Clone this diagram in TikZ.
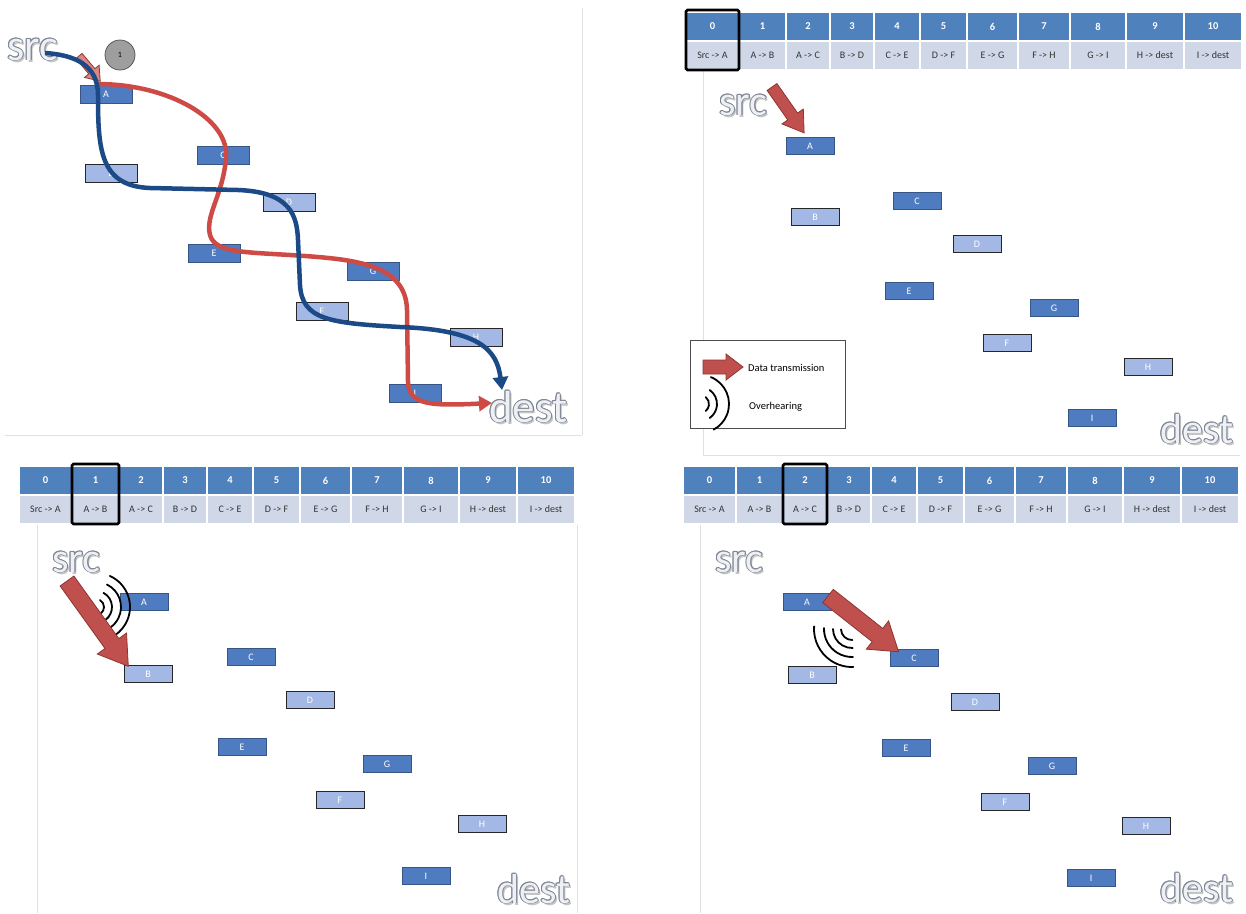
\documentclass[tikz,border=0pt]{standalone}
\usepackage{fontspec}
\setmainfont{Carlito}
\usetikzlibrary{arrows.meta}
\definecolor{hdrc}{HTML}{4F81BD}
\definecolor{slotc}{HTML}{D0D8E8}
\definecolor{darkbox}{HTML}{4F7BC0}
\definecolor{lightbox}{HTML}{A3B8E4}
\definecolor{arrred}{HTML}{C0504D}
\definecolor{arrredd}{HTML}{8E3532}
\definecolor{arrpink}{HTML}{DA8683}
\definecolor{pathred}{HTML}{CD4A45}
\definecolor{pathblue}{HTML}{1B4A86}
\definecolor{olc}{HTML}{7D8593}
\definecolor{olfill}{HTML}{EEF0F5}
\definecolor{olshadow}{HTML}{C4C4C4}
\definecolor{faintc}{HTML}{E0E0E0}
\definecolor{slottxt}{HTML}{333333}

\newcommand\olcopy[3]{\rlap{\kern#1\raisebox{#2}{\textcolor{olc}{#3}}}}
\newcommand\outlined[1]{\rlap{\kern2pt\raisebox{-2pt}{\textcolor{olshadow}{#1}}}%
\olcopy{0.9pt}{0pt}{#1}\olcopy{-0.9pt}{0pt}{#1}\olcopy{0pt}{0.9pt}{#1}\olcopy{0pt}{-0.9pt}{#1}%
\olcopy{0.65pt}{0.65pt}{#1}\olcopy{-0.65pt}{0.65pt}{#1}\olcopy{0.65pt}{-0.65pt}{#1}\olcopy{-0.65pt}{-0.65pt}{#1}%
\textcolor{olfill}{#1}}

% block arrow: x, y, canvas angle, length, shaft half width, head half width, head length, fill
\newcommand\blockarrow[8]{%
 \begin{scope}[shift={(#1,#2)},rotate=#3]
  \filldraw[fill=#8,draw=arrredd,line width=0.8pt,line join=miter]
   (0,-#5) -- ({#4-#7},-#5) -- ({#4-#7},-#6) -- (#4,0) -- ({#4-#7},#6) -- ({#4-#7},#5) -- (0,#5) -- cycle;
 \end{scope}}

% slot table: prefix, x0, y0, highlight left, highlight right
\newcommand\slottable[5]{%
 \foreach \ci/\ca/\cb/\ct in {0/0/53/{Src -> A},1/53/100/{A -> B},2/100/144/{A -> C},3/144/188/{B -> D},4/188/234/{C -> E},5/234/281/{D -> F},6/281/332/{E -> G},7/332/384/{F -> H},8/384/440/{G -> I},9/440/498/{H -> dest},10/498/556/{I -> dest}}{
  \filldraw[fill=hdrc,draw=white,line width=1.2pt] ({#2+\ca},#3) rectangle ({#2+\cb},{#3+29});
  \filldraw[fill=slotc,draw=white,line width=1.2pt] ({#2+\ca},{#3+29}) rectangle ({#2+\cb},{#3+58});
  \node[hdrtext] (#1h\ci) at ({#2+(\ca+\cb)/2},{#3+14.5}) {\ci};
  \node[slottext] (#1s\ci) at ({#2+(\ca+\cb)/2},{#3+43.5}) {\ct};
 }
 \draw[hl] ({#2+#4},{#3-2}) rectangle ({#2+#5},{#3+58});
}

\begin{document}
\begin{tikzpicture}[x=1pt,y=-1pt,
 dbox/.style={draw=darkbox!70!black, line width=0.6pt, fill=darkbox, minimum width=48pt, minimum height=17pt, inner sep=0pt, text=white, font=\fontsize{10}{12}\selectfont},
 lbox/.style={dbox, fill=lightbox, draw=black!85, line width=0.9pt},
 bigd/.style={dbox, minimum width=52pt, minimum height=18pt},
 bigl/.style={lbox, minimum width=52pt, minimum height=18pt},
 hdrtext/.style={text=white, font=\bfseries\fontsize{10.5}{12}\selectfont, inner sep=0pt},
 slottext/.style={text=slottxt, font=\fontsize{10}{12}\selectfont, inner sep=0pt},
 hl/.style={draw=black, line width=2.6pt, rounded corners=1.5pt},
 bigtext/.style={anchor=base west, inner sep=0pt, font=\fontsize{42}{44}\selectfont},
 faint/.style={draw=faintc, line width=0.8pt},
 redpath/.style={draw=pathred, line width=4.5pt, -{Triangle[length=13pt,width=15pt]}},
 bluepath/.style={draw=pathblue, line width=4.5pt, -{Triangle[length=13pt,width=15pt]}},
 arcline/.style={draw=black, line width=1.8pt, line cap=round},
 legtext/.style={anchor=west, inner sep=0pt, font=\fontsize{10.5}{12}\selectfont}
]
\useasboundingbox (0,0) rectangle (1246,913);

% ---------- faint panel borders ----------
\draw[faint] (582,8) -- (582,435);
\draw[faint] (5,435) -- (582,435);
\draw[faint] (703,70) -- (703,455);
\draw[faint] (703,455) -- (1240,455);
\draw[faint] (37,525) -- (37,913);
\draw[faint] (577,525) -- (577,913);
\draw[faint] (700,525) -- (700,913);

% ---------- panel 1 ----------
\node[bigd] (p1A) at (106,94) {A};
\node[bigl] (p1B) at (111,173) {B};
\node[bigd] (p1C) at (223,155) {C};
\node[bigl] (p1D) at (289,202) {D};
\node[bigd] (p1E) at (214,253) {E};
\node[bigd] (p1G) at (373,271) {G};
\node[bigl] (p1F) at (322,311) {F};
\node[bigl] (p1H) at (476,337) {H};
\node[bigd] (p1I) at (415,393) {I};
\node[bigtext, font=\fontsize{44}{46}\selectfont] (p1src) at (7,60) {\outlined{src}};
\node[bigtext, font=\fontsize{45}{47}\selectfont] (p1dest) at (489,422) {\outlined{dest}};
\node[circle, fill=black!38, draw=black!65, line width=0.8pt, minimum size=30pt, inner sep=0pt, font=\fontsize{8}{9}\selectfont] (p1num) at (120,55) {1};
\blockarrow{79}{56}{-50}{33}{4}{9.5}{13}{arrpink}
\draw[redpath] (97,84) .. controls (170,84) and (230,120) .. (226,158)
  .. controls (223,195) and (205,215) .. (210,235)
  .. controls (215,252) and (240,252) .. (290,255)
  .. controls (350,259) and (406,262) .. (407,310)
  -- (408,382)
  .. controls (409,405) and (430,406) .. (492,403);
\draw[bluepath] (45,53) .. controls (75,55) and (98,65) .. (98,95)
  .. controls (98,150) and (100,186) .. (150,188)
  -- (238,190)
  .. controls (290,192) and (297,215) .. (298,240)
  -- (300,285)
  .. controls (302,320) and (330,323) .. (400,327)
  .. controls (480,330) and (497,350) .. (502,390);

% ---------- panel 2 ----------
\slottable{p2}{686}{12}{0}{53}
\node[dbox] (p2A) at (810,146) {A};
\node[lbox] (p2B) at (815,217) {B};
\node[dbox] (p2C) at (917,201) {C};
\node[lbox] (p2D) at (977,244) {D};
\node[dbox] (p2E) at (909,291) {E};
\node[dbox] (p2G) at (1054,308) {G};
\node[lbox] (p2F) at (1007,343) {F};
\node[lbox] (p2H) at (1148,367) {H};
\node[dbox] (p2I) at (1092,418) {I};
\node[bigtext] (p2src) at (719,115) {\outlined{src}};
\node[bigtext] (p2dest) at (1160,443) {\outlined{dest}};
\blockarrow{772}{87}{-55}{56}{6}{13}{20}{arrred}
% legend
\filldraw[fill=white, draw=black!70, line width=0.8pt] (690,340) rectangle (845,428);
\blockarrow{703}{367}{0}{40}{7}{13}{17}{arrred}
\draw[arcline] (700,404) ++(-50:9) arc[start angle=-50, end angle=50, radius=9];
\draw[arcline] (700,404) ++(-55:17) arc[start angle=-55, end angle=55, radius=17];
\draw[arcline] (700,404) ++(-68:29) arc[start angle=-68, end angle=62, radius=29];
\node[legtext] (legdata) at (748,368) {Data transmission};
\node[legtext] (legover) at (749,407) {Overhearing};

% ---------- panel 3 ----------
\slottable{p3}{19}{466}{53}{100}
\node[dbox] (p3A) at (144,602) {A};
\node[lbox] (p3B) at (148,674) {B};
\node[dbox] (p3C) at (251,657) {C};
\node[lbox] (p3D) at (310,700) {D};
\node[dbox] (p3E) at (242,747) {E};
\node[dbox] (p3G) at (387,764) {G};
\node[lbox] (p3F) at (340,800) {F};
\node[lbox] (p3H) at (482,824) {H};
\node[dbox] (p3I) at (426,876) {I};
\node[bigtext] (p3src) at (52,572) {\outlined{src}};
\node[bigtext] (p3dest) at (497,903) {\outlined{dest}};
\draw[arcline] (96,607) ++(-60:8) arc[start angle=-60, end angle=50, radius=8];
\draw[arcline] (96,607) ++(-62:16) arc[start angle=-62, end angle=52, radius=16];
\draw[arcline] (96,607) ++(-64:25) arc[start angle=-64, end angle=54, radius=25];
\draw[arcline] (96,607) ++(-66:34) arc[start angle=-66, end angle=56, radius=34];
\blockarrow{67}{581}{-54.3}{105}{8.5}{18}{28}{arrred}

% ---------- panel 4 ----------
\slottable{p4}{683}{466}{100}{144}
\node[dbox] (p4A) at (807,602) {A};
\node[lbox] (p4B) at (812,675) {B};
\node[dbox] (p4C) at (914,658) {C};
\node[lbox] (p4D) at (975,702) {D};
\node[dbox] (p4E) at (906,748) {E};
\node[dbox] (p4G) at (1052,766) {G};
\node[lbox] (p4F) at (1005,802) {F};
\node[lbox] (p4H) at (1146,826) {H};
\node[dbox] (p4I) at (1091,878) {I};
\node[bigtext] (p4src) at (715,572) {\outlined{src}};
\node[bigtext] (p4dest) at (1160,902) {\outlined{dest}};
\draw[arcline] (852,629) ++(178:11) arc[start angle=178, end angle=88, radius=11];
\draw[arcline] (852,629) ++(180:19) arc[start angle=180, end angle=88, radius=19];
\draw[arcline] (852,629) ++(182:28) arc[start angle=182, end angle=88, radius=28];
\draw[arcline] (852,629) ++(184:38) arc[start angle=184, end angle=88, radius=38];
\blockarrow{828}{596}{-38.3}{90}{8.5}{18}{27}{arrred}
\end{tikzpicture}
\end{document}
